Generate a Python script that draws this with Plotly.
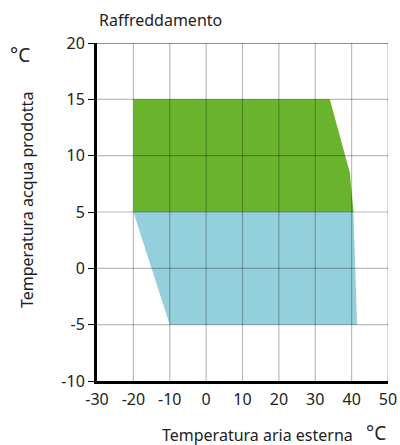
import plotly.graph_objects as go

# Data
x_ticks = [-30, -20, -10, 0, 10, 20, 30, 40, 50]
y_ticks = [-10, -5, 0, 5, 10, 15, 20]

cool_high_x = [-20, 34, 39.5, 40.5, -20]   # green zone (5..15 °C water)
cool_high_y = [15, 15, 8.5, 5, 5]
cool_low_x = [-20, 40.5, 41.5, -10]        # blue zone (-5..5 °C water)
cool_low_y = [5, 5, -5, -5]

GREEN = "#6ab42d"
BLUE = "#94d0dc"
FONT = "Noto Sans"

fig = go.Figure()
fig.add_trace(go.Scatter(x=cool_low_x, y=cool_low_y, fill="toself", fillcolor=BLUE,
                         mode="lines", line=dict(width=0, color=BLUE), hoverinfo="skip"))
fig.add_trace(go.Scatter(x=cool_high_x, y=cool_high_y, fill="toself", fillcolor=GREEN,
                         mode="lines", line=dict(width=0, color=GREEN), hoverinfo="skip"))

# grid drawn above the fills (semi-transparent)
gx, gy = [], []
for v in x_ticks[1:]:
    gx += [v, v, None]
    gy += [y_ticks[0], y_ticks[-1], None]
for v in y_ticks[1:-1]:
    gx += [x_ticks[0], x_ticks[-1], None]
    gy += [v, v, None]
fig.add_trace(go.Scatter(x=gx, y=gy, mode="lines", line=dict(color="rgba(0,0,0,0.27)", width=1.2),
                         hoverinfo="skip", connectgaps=False))
# top border
fig.add_trace(go.Scatter(x=[x_ticks[0], x_ticks[-1]], y=[y_ticks[-1], y_ticks[-1]], mode="lines",
                         line=dict(color="#222", width=1.2), hoverinfo="skip"))

fig.update_layout(
    width=400, height=445,
    margin=dict(l=97, r=12, t=43, b=64, autoexpand=False),
    paper_bgcolor="white", plot_bgcolor="white",
    showlegend=False,
    font=dict(family=FONT, size=14, color="#222"),
    xaxis=dict(range=[x_ticks[0], x_ticks[-1]], tickvals=x_ticks, ticktext=[str(v) for v in x_ticks],
               showgrid=False, zeroline=False, showline=True, linecolor="black", linewidth=3,
               ticks="", tickfont=dict(size=16), ticklabelstandoff=2, layer="above traces",
               automargin=False),
    yaxis=dict(range=[y_ticks[0], y_ticks[-1]], tickvals=y_ticks, ticktext=[str(v) for v in y_ticks],
               showgrid=False, zeroline=False, showline=True, linecolor="black", linewidth=3,
               ticks="outside", ticklen=6, tickcolor="black", tickwidth=1, tickfont=dict(size=16),
               layer="above traces", automargin=False),
)

pw, ph = 400 - 97 - 12, 445 - 43 - 64
def px(xp):
    return (xp - 97) / pw
def py(yp):
    return (445 - 64 - yp) / ph

fig.add_annotation(text="Raffreddamento", x=px(97), y=py(20), xref="paper", yref="paper",
                   xanchor="left", yanchor="middle", showarrow=False, font=dict(size=16))
fig.add_annotation(text="Temperatura acqua prodotta", textangle=-90, x=px(27), y=py(200),
                   xref="paper", yref="paper", xanchor="center", yanchor="middle",
                   showarrow=False, font=dict(size=16))
fig.add_annotation(text="°C", x=px(20), y=py(55), xref="paper", yref="paper",
                   xanchor="center", yanchor="middle", showarrow=False, font=dict(size=19))
fig.add_annotation(text="Temperatura aria esterna", x=px(355), y=py(435), xref="paper", yref="paper",
                   xanchor="right", yanchor="middle", showarrow=False, font=dict(size=16))
fig.add_annotation(text="°C", x=px(376), y=py(433), xref="paper", yref="paper",
                   xanchor="center", yanchor="middle", showarrow=False, font=dict(size=19))

fig.write_html("out.html", post_script="document.body.style.margin='0';",
               config={"displayModeBar": False})
